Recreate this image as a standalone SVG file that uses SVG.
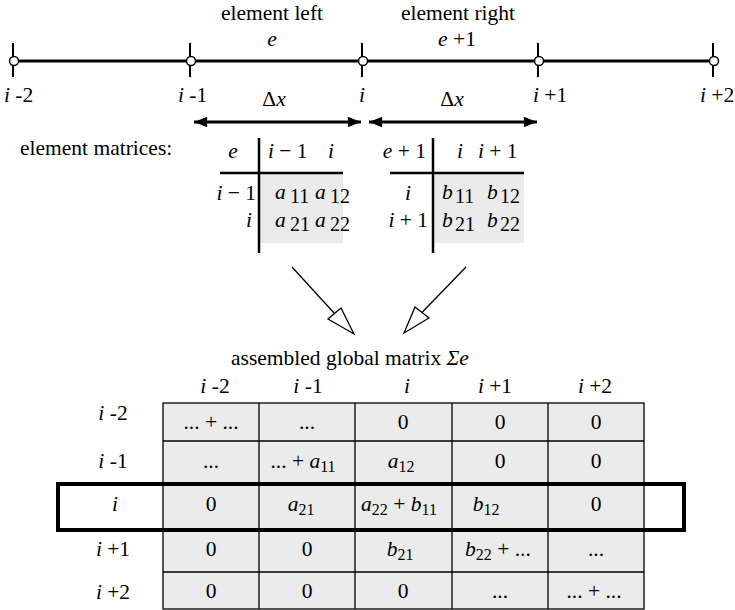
<svg xmlns="http://www.w3.org/2000/svg" width="735" height="610" viewBox="0 0 735 610" font-family="'Liberation Serif', 'Times New Roman', Times, 'DejaVu Serif', serif">
<style>
text{font-family:"Liberation Serif","Times New Roman",Times,"DejaVu Serif",serif;font-size:21.5px;fill:#000}
.it{font-style:italic}
.m{text-anchor:middle}
.e{text-anchor:end}
.sub{font-size:16px}
.esub{font-size:20px}
.ax{stroke:#000;stroke-width:3;fill:none}
.tk{stroke:#000;stroke-width:2}
.nd{fill:#fff;stroke:#000;stroke-width:1.5}
.rule{stroke:#000;stroke-width:2.5}
.grid{stroke:#000;stroke-width:1.3;fill:none}
.gray{fill:#ebebeb}
.hl{fill:none;stroke:#000;stroke-width:4}
.conn{stroke:#000;stroke-width:1.3;fill:none}
.head{fill:#fff;stroke:#000;stroke-width:1.3}
</style>
<defs>
<marker id="ah" viewBox="0 0 10 8" refX="10" refY="4" markerWidth="5" markerHeight="3.5" orient="auto-start-reverse" markerUnits="strokeWidth">
<path d="M0,0L10,4L0,8z" fill="#000"/>
</marker>
</defs>

<g id="axis">
<line class="ax" x1="13" y1="61" x2="713" y2="61"/>
<line class="tk" x1="13" y1="43" x2="13" y2="77"/>
<line class="tk" x1="190" y1="43" x2="190" y2="77"/>
<line class="tk" x1="362" y1="43" x2="362" y2="77"/>
<line class="tk" x1="538" y1="43" x2="538" y2="77"/>
<line class="tk" x1="713" y1="43" x2="713" y2="77"/>
<circle class="nd" cx="14" cy="61" r="4.5"/>
<circle class="nd" cx="191" cy="61" r="4.5"/>
<circle class="nd" cx="363" cy="61" r="4.5"/>
<circle class="nd" cx="539" cy="61" r="4.5"/>
<circle class="nd" cx="714" cy="61" r="4.5"/>
<text x="4" y="102"><tspan class="it">i</tspan> -2</text>
<text x="178" y="102"><tspan class="it">i</tspan> -1</text>
<text x="359" y="102" class="it">i</text>
<text x="533" y="102"><tspan class="it">i</tspan> +1</text>
<text x="700" y="102"><tspan class="it">i</tspan> +2</text>
<text x="272" y="20" class="m">element left</text>
<text x="272" y="46" class="m it">e</text>
<text x="458" y="20" class="m">element right</text>
<text x="457" y="46" class="m"><tspan class="it">e</tspan> +1</text>
<text x="274" y="106" class="m">Δ<tspan class="it">x</tspan></text>
<text x="452" y="106" class="m">Δ<tspan class="it">x</tspan></text>
<line class="ax" x1="194" y1="122" x2="361" y2="122" marker-start="url(#ah)" marker-end="url(#ah)"/>
<line class="ax" x1="369" y1="122" x2="537" y2="122" marker-start="url(#ah)" marker-end="url(#ah)"/>
</g>

<g id="element-label">
<text x="20" y="155">element matrices:</text>
</g>

<g id="matrix-left">
<rect class="gray" x="260" y="174" width="83" height="69"/>
<line class="rule" x1="259" y1="138" x2="259" y2="253"/>
<line class="rule" x1="220" y1="173" x2="343" y2="173"/>
<text x="233" y="158" class="m it">e</text>
<text x="268" y="158"><tspan class="it">i</tspan> − 1</text>
<text x="331" y="158" class="m it">i</text>
<text x="256" y="200" class="e"><tspan class="it">i</tspan> − 1</text>
<text x="249" y="227" class="m it">i</text>
<text x="275" y="199"><tspan class="it">a</tspan><tspan class="esub" x="290" dy="4">11</tspan></text>
<text x="315" y="199"><tspan class="it">a</tspan><tspan class="esub" x="330" dy="4">12</tspan></text>
<text x="275" y="227"><tspan class="it">a</tspan><tspan class="esub" x="290" dy="4">21</tspan></text>
<text x="315" y="227"><tspan class="it">a</tspan><tspan class="esub" x="330" dy="4">22</tspan></text>
</g>

<g id="matrix-right">
<rect class="gray" x="434" y="174" width="90" height="69"/>
<line class="rule" x1="433" y1="138" x2="433" y2="253"/>
<line class="rule" x1="390" y1="173" x2="524" y2="173"/>
<text x="426" y="158" class="e"><tspan class="it">e</tspan> + 1</text>
<text x="460" y="158" class="m it">i</text>
<text x="478" y="158"><tspan class="it">i</tspan> + 1</text>
<text x="408" y="200" class="m it">i</text>
<text x="428" y="227" class="e"><tspan class="it">i</tspan> + 1</text>
<text x="442" y="199"><tspan class="it">b</tspan><tspan class="esub" x="455" dy="4">11</tspan></text>
<text x="487" y="199"><tspan class="it">b</tspan><tspan class="esub" x="500" dy="4">12</tspan></text>
<text x="442" y="227"><tspan class="it">b</tspan><tspan class="esub" x="455" dy="4">21</tspan></text>
<text x="487" y="227"><tspan class="it">b</tspan><tspan class="esub" x="500" dy="4">22</tspan></text>
</g>

<g id="connectors">
<line class="conn" x1="292" y1="267" x2="334.5" y2="313.5"/>
<polygon class="head" points="354,334 328,319 341,308"/>
<line class="conn" x1="466" y1="267" x2="422" y2="312.5"/>
<polygon class="head" points="404,333 415,307 429,318"/>
</g>

<g id="global-matrix">
<text x="231" y="365">assembled global matrix <tspan class="it">Σe</tspan></text>
<text x="215" y="393" class="m"><tspan class="it">i</tspan> -2</text>
<text x="308" y="393" class="m"><tspan class="it">i</tspan> -1</text>
<text x="407" y="393" class="m it">i</text>
<text x="495" y="393" class="m"><tspan class="it">i</tspan> +1</text>
<text x="595" y="393" class="m"><tspan class="it">i</tspan> +2</text>
<rect class="gray" x="163" y="403" width="481" height="206"/>
<rect class="grid" x="163" y="403" width="481" height="206"/>
<line class="grid" x1="259" y1="403" x2="259" y2="609"/>
<line class="grid" x1="355" y1="403" x2="355" y2="609"/>
<line class="grid" x1="452" y1="403" x2="452" y2="609"/>
<line class="grid" x1="548" y1="403" x2="548" y2="609"/>
<line class="grid" x1="163" y1="441" x2="644" y2="441"/>
<line class="grid" x1="163" y1="484" x2="644" y2="484"/>
<line class="grid" x1="163" y1="530" x2="644" y2="530"/>
<line class="grid" x1="163" y1="572" x2="644" y2="572"/>
<rect class="hl" x="58" y="484" width="626" height="46"/>
<text x="113" y="420" class="m"><tspan class="it">i</tspan> -2</text>
<text x="113" y="468" class="m"><tspan class="it">i</tspan> -1</text>
<text x="115" y="511" class="m it">i</text>
<text x="113" y="556" class="m"><tspan class="it">i</tspan> +1</text>
<text x="113" y="599" class="m"><tspan class="it">i</tspan> +2</text>

<text x="211" y="429" class="m">... + ...</text>
<text x="307" y="429" class="m">...</text>
<text x="403" y="429" class="m">0</text>
<text x="500" y="429" class="m">0</text>
<text x="596" y="429" class="m">0</text>

<text x="211" y="468" class="m">...</text>
<text x="303" y="468" class="m">... + <tspan class="it">a</tspan><tspan class="sub" dy="4">11</tspan></text>
<text x="401" y="468" class="m"><tspan class="it">a</tspan><tspan class="sub" dy="4">12</tspan></text>
<text x="500" y="468" class="m">0</text>
<text x="596" y="468" class="m">0</text>

<text x="211" y="511" class="m">0</text>
<text x="301" y="511" class="m"><tspan class="it">a</tspan><tspan class="sub" dy="4">21</tspan></text>
<text x="399" y="511" class="m"><tspan class="it">a</tspan><tspan class="sub" dy="4">22</tspan><tspan dy="-4"> + </tspan><tspan class="it">b</tspan><tspan class="sub" dy="4">11</tspan></text>
<text x="486" y="511" class="m"><tspan class="it">b</tspan><tspan class="sub" dy="4">12</tspan></text>
<text x="596" y="511" class="m">0</text>

<text x="211" y="556" class="m">0</text>
<text x="307" y="556" class="m">0</text>
<text x="400" y="556" class="m"><tspan class="it">b</tspan><tspan class="sub" dy="4">21</tspan></text>
<text x="498" y="556" class="m"><tspan class="it">b</tspan><tspan class="sub" dy="4">22</tspan><tspan dy="-4"> + ...</tspan></text>
<text x="596" y="556" class="m">...</text>

<text x="211" y="598" class="m">0</text>
<text x="307" y="598" class="m">0</text>
<text x="403" y="598" class="m">0</text>
<text x="500" y="598" class="m">...</text>
<text x="594" y="598" class="m">... + ...</text>
</g>
</svg>
